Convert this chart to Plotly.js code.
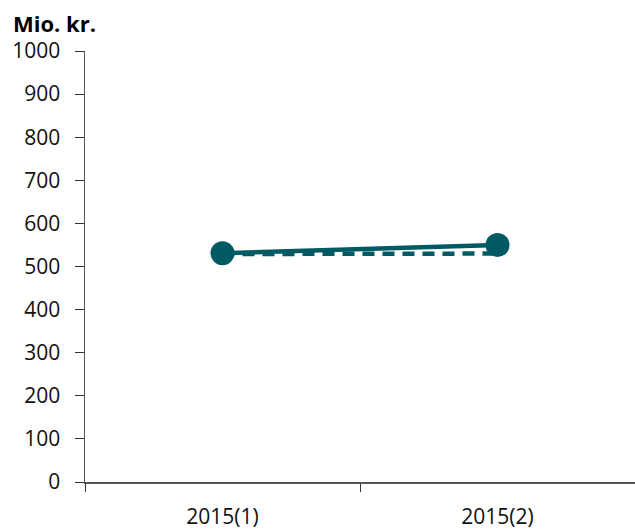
<!DOCTYPE html>
<html>
<head>
<meta charset="utf-8">
<script src="https://cdn.plot.ly/plotly-3.0.1.min.js"></script>
<style>
  html, body { margin: 0; padding: 0; background: #fff; }
  #grafico { width: 635px; height: 529px; }
</style>
</head>
<body>
<div id="grafico"></div>
<script>
const kategorier = ['2015(1)', '2015(2)'];
const faktisk = [531, 550];
const budget = [529, 530];

const farve = '#005a64';
const skrift = '"Open Sans", "Noto Sans", sans-serif';

const spor = [
  {
    x: kategorier,
    y: budget,
    type: 'scatter',
    mode: 'lines',
    line: { color: farve, width: 4.5, dash: '12px,8px' },
    hoverinfo: 'skip'
  },
  {
    x: kategorier,
    y: faktisk,
    type: 'scatter',
    mode: 'lines+markers',
    line: { color: farve, width: 4.5 },
    marker: { color: farve, size: 24 }
  }
];

const layout = {
  width: 635,
  height: 529,
  margin: { l: 85, r: 0, t: 51, b: 47 },
  showlegend: false,
  paper_bgcolor: '#fff',
  plot_bgcolor: '#fff',
  font: { family: skrift, size: 21, color: '#111' },
  xaxis: {
    type: 'category',
    tickson: 'boundaries',
    ticks: 'outside',
    ticklen: 8,
    tickcolor: '#333',
    showline: true,
    linecolor: '#555',
    linewidth: 1.5,
    showgrid: false,
    zeroline: false,
    ticklabelstandoff: 15,
    range: [-0.5, 1.5]
  },
  yaxis: {
    range: [0, 1000],
    dtick: 100,
    ticks: 'outside',
    ticklen: 9,
    tickcolor: '#333',
    showline: true,
    linecolor: '#555',
    linewidth: 1.5,
    showgrid: false,
    zeroline: false,
    ticklabelstandoff: 10
  },
  annotations: [
    {
      text: '<b>Mio. kr.</b>',
      xref: 'paper', yref: 'paper',
      x: -0.135, y: 1.025,
      xanchor: 'left', yanchor: 'bottom',
      showarrow: false,
      font: { family: skrift, size: 22, color: '#000' }
    }
  ]
};

Plotly.newPlot('grafico', spor, layout, { displayModeBar: false, staticPlot: true });
</script>
</body>
</html>
